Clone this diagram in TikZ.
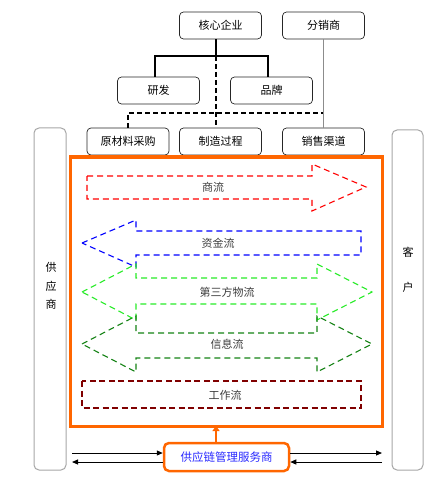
\documentclass[tikz,border=0pt]{standalone}
\usepackage{fontspec}
\setmainfont{Liberation Sans}
\newfontfamily\cjk{Noto Sans CJK SC}
\usetikzlibrary{arrows.meta}
\definecolor{orng}{RGB}{255,102,0}
\definecolor{lime}{RGB}{40,235,40}
\definecolor{dgreen}{RGB}{20,130,20}
\definecolor{dred}{RGB}{128,0,0}
\definecolor{txtgray}{RGB}{60,60,60}
\definecolor{svcblue}{RGB}{40,40,255}
\tikzset{
  topbox/.style={draw=black!85, line width=0.7pt, rounded corners=4pt, minimum width=82pt, minimum height=27pt, inner sep=0pt, font=\cjk\fontsize{11}{13}\selectfont},
  tallbox/.style={draw=black!35, line width=1pt, rounded corners=5pt, inner sep=0pt, font=\cjk\fontsize{11}{13}\selectfont},
  flowdash/.style={line width=1.1pt, dash pattern=on 6pt off 4pt},
  flowlabel/.style={font=\cjk\fontsize{11}{13}\selectfont, text=txtgray, inner sep=1pt},
}
\begin{document}
\begin{tikzpicture}[x=1pt,y=-1pt]
\useasboundingbox (0,0) rectangle (444,481);
% top boxes
\node[topbox] (hx) at (220.5,25.5) {核心企业};
\node[topbox] (fx) at (323.5,25.5) {分销商};
\node[topbox] (yf) at (158.5,90.5) {研发};
\node[topbox] (pp) at (271.5,90.5) {品牌};
\node[topbox] (ycl) at (128,141.5) {原材料采购};
\node[topbox] (zz) at (220.5,141.5) {制造过程};
\node[topbox] (xs) at (323.5,141.5) {销售渠道};
% tall boxes
\node[tallbox, minimum width=32pt, minimum height=342pt] (gys) at (50,299) {};
\node[tallbox, minimum width=31pt, minimum height=340pt] (kh) at (407.5,300) {};
\node[font=\cjk\fontsize{11}{18.5}\selectfont, align=center, inner sep=0pt] (gyst) at (51,286) {供\\应\\商};
\node[font=\cjk\fontsize{11}{35}\selectfont, align=center, inner sep=0pt] (kht) at (408,269.5) {客\\户};
% connectors
\coordinate (j1) at (216,56);
\coordinate (ja) at (155,56);
\coordinate (jb) at (268,56);
\coordinate (j2) at (128,113);
\coordinate (j3) at (323,113);
\draw[line width=1.8pt] (j1 |- hx.south) -- (j1);
\draw[line width=1.8pt] (ja |- yf.north) -- (ja) -- (jb) -- (jb |- pp.north);
\draw[line width=1.5pt, dash pattern=on 5pt off 3pt] (j1) -- (j1 |- zz.north);
\draw[line width=1.5pt, dash pattern=on 5pt off 3pt] (j2 |- ycl.north) -- (j2) -- (j3);
\draw[black!45, line width=1pt] (j3 |- fx.south) -- (j3 |- xs.north);
% orange frame
\draw[orng, line width=3pt] (70,157) rectangle (382,426);
% flows
\draw[red, flowdash] (87,176) -- (312,176) -- (312,164) -- (366,187) -- (312,211) -- (312,199) -- (87,199) -- cycle;
\node[flowlabel] (sl) at (213,187) {商流};
\draw[blue, flowdash] (82,243) -- (136,220) -- (136,231) -- (361,231) -- (361,255) -- (136,255) -- (136,267) -- cycle;
\node[flowlabel] (zj) at (218,243) {资金流};
\draw[lime, flowdash] (82,292) -- (136,264) -- (136,278) -- (317,278) -- (317,264) -- (372,292) -- (317,320) -- (317,304) -- (136,304) -- (136,320) -- cycle;
\node[flowlabel] (wl) at (227,292) {第三方物流};
\draw[dgreen, flowdash] (82,344) -- (136,316) -- (136,333) -- (317,333) -- (317,316) -- (372,344) -- (317,372) -- (317,358) -- (136,358) -- (136,372) -- cycle;
\node[flowlabel] (xx) at (227,344) {信息流};
\draw[dred, line width=1.8pt, dash pattern=on 6pt off 3.5pt] (82,381) rectangle (361,408);
\node[flowlabel] (gz) at (225,395) {工作流};
% service provider
\node[draw=orng, line width=2.5pt, rounded corners=5pt, minimum width=125pt, minimum height=28pt, inner sep=0pt, text=svcblue, font=\cjk\fontsize{11.5}{13}\selectfont] (svc) at (226.5,457) {供应链管理服务商};
\coordinate (fb) at (216,426);
\draw[orng, line width=2.5pt, -{Triangle[length=5pt,width=7pt]}] (fb |- svc.north) -- (fb);
\coordinate (la) at (72,453);
\coordinate (lb) at (72,462);
\coordinate (ra) at (382,453);
\coordinate (rb) at (382,462);
\draw[line width=1pt, -{Triangle[length=6pt,width=5pt]}] (la) -- (la -| svc.west);
\draw[line width=1pt, -{Triangle[length=6pt,width=5pt]}] (lb -| svc.west) -- (lb);
\draw[line width=1pt, -{Triangle[length=6pt,width=5pt]}] (ra -| svc.east) -- (ra);
\draw[line width=1pt, -{Triangle[length=6pt,width=5pt]}] (rb) -- (rb -| svc.east);
\end{tikzpicture}
\end{document}
